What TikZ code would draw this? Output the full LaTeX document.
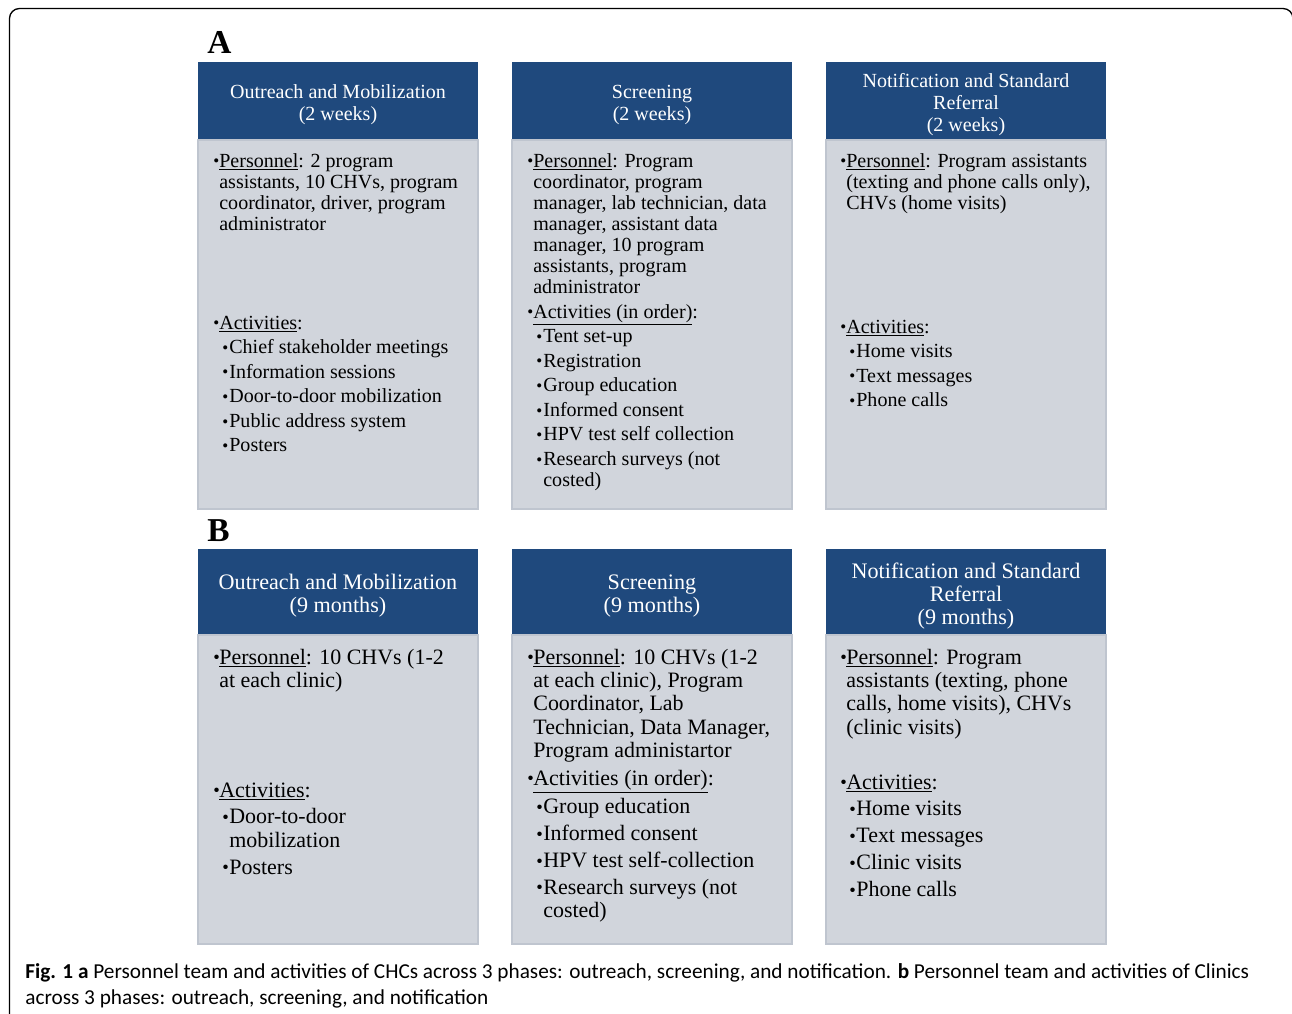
\documentclass[tikz,border=0pt]{standalone}
\usepackage{fontspec}
\setmainfont{Liberation Serif}
\newfontfamily\capfont{Carlito}
\usepackage{xcolor}
\usetikzlibrary{positioning}

\definecolor{headblue}{HTML}{1F497D}
\definecolor{bodygray}{HTML}{D1D5DC}
\definecolor{bodyedge}{HTML}{BFC5CF}

% bullets and hanging lines
\newcommand{\bul}{\makebox[0.12cm][l]{\raisebox{0.2pt}{\scalebox{0.85}{\textbullet}}}}
\newcommand{\cont}{\hspace*{0.12cm}}
\newcommand{\sbul}{\hspace*{0.18cm}\makebox[0.14cm][l]{\raisebox{0.2pt}{\scalebox{0.85}{\textbullet}}}}
\newcommand{\scont}{\hspace*{0.32cm}}
\newcommand{\txtA}[1]{\parbox[t]{5.4cm}{\fontsize{11.4}{12}\selectfont #1}}
\newcommand{\txtB}[1]{\parbox[t]{5.4cm}{\fontsize{12.5}{13.3}\selectfont #1}}

\tikzset{
  bodybox/.style={fill=bodygray, draw=bodyedge, line width=0.6pt},
  headA/.style={text=white, align=center, inner sep=0pt, font={\fontsize{11.4}{12.5}\selectfont}},
  headB/.style={text=white, align=center, inner sep=0pt, font={\fontsize{12.6}{13}\selectfont}},
  bodytxt/.style={anchor=base west, inner sep=0pt},
  panel/.style={anchor=base west, inner sep=0pt, font={\fontsize{19}{19}\selectfont\bfseries}},
}

\begin{document}
\begin{tikzpicture}[x=0.02cm, y=-0.02cm]

\useasboundingbox (0,0) rectangle (1292,1014);
\clip (0,0) rectangle (1292,1014);

\fill[white] (0,0) rectangle (1292,1014);
\draw[line width=0.75pt, rounded corners=0.2cm] (9.5,8.5) rectangle (1293,1040);


% boxes of both panels
\foreach \cx in {198,512,826}
{
\fill[headblue] (\cx,62) rectangle ++(280,78);
\draw[bodybox] (\cx,140) rectangle ++(280,369);

\fill[headblue] (\cx,549) rectangle ++(280,86);
\draw[bodybox] (\cx,635) rectangle ++(280,309);
}


\begin{scope}

\node[panel] (labA) at (207,53) {A};

\node[headA] (hA1) at (338,105) {Outreach and Mobilization\\(2 weeks)};
\node[headA] (hA2) at (652,105) {Screening\\(2 weeks)};
\node[headA] (hA3) at (966,105) {Notification and Standard\\Referral\\(2 weeks)};

\node[bodytxt] (pA1) at (213,167) {\txtA{\bul\underline{Personnel}: 2 program\\
\cont assistants, 10 CHVs, program\\
\cont coordinator, driver, program\\
\cont administrator}};

\node[bodytxt] (aA1) at (213,329) {\txtA{\bul\underline{Activities}:\\[2pt]
\sbul Chief stakeholder meetings\\[2pt]
\sbul Information sessions\\[2pt]
\sbul Door-to-door mobilization\\[2pt]
\sbul Public address system\\[2pt]
\sbul Posters}};

\node[bodytxt] (pA2) at (527,167) {\txtA{\bul\underline{Personnel}: Program\\
\cont coordinator, program\\
\cont manager, lab technician, data\\
\cont manager, assistant data\\
\cont manager, 10 program\\
\cont assistants, program\\
\cont administrator}};

\node[bodytxt] (aA2) at (527,318) {\txtA{\bul\underline{Activities (in order)}:\\[2pt]
\sbul Tent set-up\\[2pt]
\sbul Registration\\[2pt]
\sbul Group education\\[2pt]
\sbul Informed consent\\[2pt]
\sbul HPV test self collection\\[2pt]
\sbul Research surveys (not\\
\scont costed)}};

\node[bodytxt] (pA3) at (840,167) {\txtA{\bul\underline{Personnel}: Program assistants\\
\cont (texting and phone calls only),\\
\cont CHVs (home visits)}};

\node[bodytxt] (aA3) at (840,333) {\txtA{\bul\underline{Activities}:\\[2pt]
\sbul Home visits\\[2pt]
\sbul Text messages\\[2pt]
\sbul Phone calls}};

\end{scope}


\begin{scope}

\node[panel] (labB) at (207,541) {B};

\node[headB] (hB1) at (338,596) {Outreach and Mobilization\\(9 months)};
\node[headB] (hB2) at (652,596) {Screening\\(9 months)};
\node[headB] (hB3) at (966,596) {Notification and Standard\\Referral\\(9 months)};

\node[bodytxt] (pB1) at (213,664) {\txtB{\bul\underline{Personnel}: 10 CHVs (1-2\\
\cont at each clinic)}};

\node[bodytxt] (aB1) at (213,797) {\txtB{\bul\underline{Activities}:\\[2pt]
\sbul Door-to-door\\
\scont mobilization\\[2pt]
\sbul Posters}};

\node[bodytxt] (pB2) at (527,664) {\txtB{\bul\underline{Personnel}: 10 CHVs (1-2\\
\cont at each clinic), Program\\
\cont Coordinator, Lab\\
\cont Technician, Data Manager,\\
\cont Program administartor}};

\node[bodytxt] (aB2) at (527,785) {\txtB{\bul\underline{Activities (in order)}:\\[2pt]
\sbul Group education\\[2pt]
\sbul Informed consent\\[2pt]
\sbul HPV test self-collection\\[2pt]
\sbul Research surveys (not\\
\scont costed)}};

\node[bodytxt] (pB3) at (840,664) {\txtB{\bul\underline{Personnel}: Program\\
\cont assistants (texting, phone\\
\cont calls, home visits), CHVs\\
\cont (clinic visits)}};

\node[bodytxt] (aB3) at (840,789) {\txtB{\bul\underline{Activities}:\\[2pt]
\sbul Home visits\\[2pt]
\sbul Text messages\\[2pt]
\sbul Clinic visits\\[2pt]
\sbul Phone calls}};

\end{scope}


% caption
\node[bodytxt] (cap) at (25,978) {\parbox[t]{25cm}{\capfont\fontsize{12.1}{15.3}\selectfont
\textbf{Fig. 1 a} Personnel team and activities of CHCs across 3 phases: outreach, screening, and notification. \textbf{b} Personnel team and activities of Clinics\\
across 3 phases: outreach, screening, and notification}};

\end{tikzpicture}
\end{document}
